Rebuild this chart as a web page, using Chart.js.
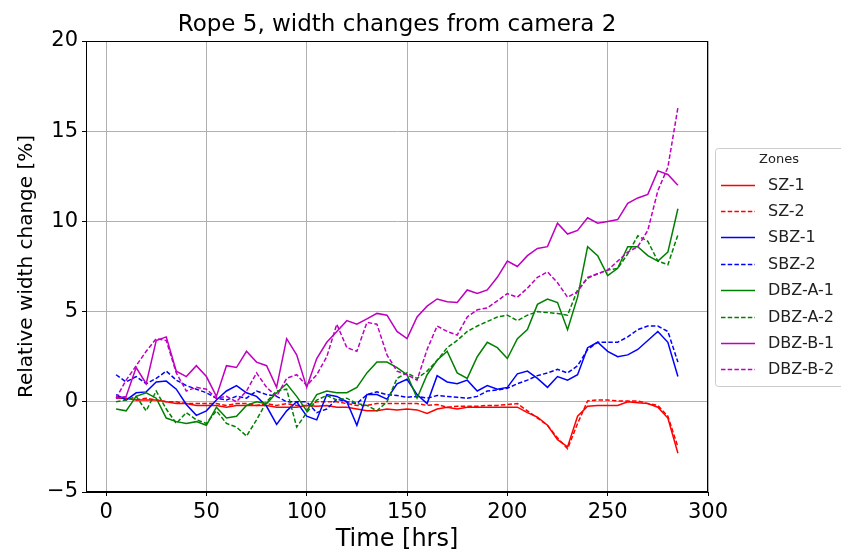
<!DOCTYPE html>
<html>
<head>
<meta charset="utf-8">
<script src="https://cdn.jsdelivr.net/npm/chart.js@4.4.1/dist/chart.umd.min.js"></script>
<style>
  html, body { margin: 0; padding: 0; background: #ffffff; }
  #wrap { width: 841px; height: 551px; position: relative; }
</style>
</head>
<body>
<div id="wrap"><canvas id="c" width="841" height="551"></canvas></div>
<script>
// ---- Data ----
const hours = [5,10,15,20,25,30,35,40,45,50,55,60,65,70,75,80,85,90,95,100,
  105,110,115,120,125,130,135,140,145,150,155,160,165,170,175,180,185,190,195,200,
  205,210,215,220,225,230,235,240,245,250,255,260,265,270,275,280,285];

const seriesNames = ["SZ-1","SZ-2","SBZ-1","SBZ-2","DBZ-A-1","DBZ-A-2","DBZ-B-1","DBZ-B-2"];

const sz1 = [0.2,0.2,0.1,0.1,0.1,0.0,-0.1,-0.1,-0.2,-0.2,-0.2,-0.3,-0.2,-0.2,-0.2,-0.2,-0.3,-0.3,-0.3,-0.2,
  -0.25,-0.2,-0.3,-0.3,-0.4,-0.5,-0.5,-0.4,-0.45,-0.4,-0.45,-0.65,-0.4,-0.3,-0.4,-0.3,-0.3,-0.3,-0.3,-0.3,
  -0.3,-0.6,-0.85,-1.3,-2.1,-2.5,-0.8,-0.25,-0.2,-0.2,-0.2,0.0,-0.05,-0.1,-0.3,-0.9,-2.85];
const sz2 = [0.3,0.2,0.1,0.2,0.1,0.0,0.0,-0.1,-0.1,-0.1,-0.1,-0.2,-0.1,-0.1,-0.2,-0.1,-0.2,-0.1,-0.2,-0.2,
  0.0,0.0,0.0,-0.1,-0.2,-0.2,-0.1,-0.1,-0.1,-0.1,-0.1,-0.2,-0.15,-0.3,-0.25,-0.25,-0.25,-0.2,-0.2,-0.15,
  -0.1,-0.5,-0.9,-1.3,-2.0,-2.6,-1.2,0.05,0.1,0.1,0.05,0.05,0.05,-0.1,-0.2,-0.8,-2.5];
const sbz1 = [0.4,0.1,0.5,0.55,1.1,1.15,0.7,-0.15,-0.75,-0.5,0.1,0.6,0.9,0.5,0.3,-0.25,-1.25,-0.5,0.0,-0.8,
  -1.0,0.4,0.3,0.0,-1.3,0.4,0.4,0.15,1.0,1.25,0.4,-0.1,1.45,1.1,1.0,1.2,0.6,0.9,0.7,0.8,
  1.55,1.7,1.3,0.8,1.4,1.2,1.5,3.0,3.3,2.8,2.5,2.6,2.9,3.4,3.9,3.3,1.4];
const sbz2 = [1.5,1.1,1.4,1.0,1.3,1.7,1.2,0.9,0.7,0.5,0.2,0.1,0.3,0.2,0.6,0.4,0.3,0.0,0.0,0.0,
  -0.6,-0.4,0.15,0.0,-0.1,0.4,0.55,0.4,0.35,0.25,0.3,0.2,0.35,0.3,0.25,0.2,0.3,0.6,0.65,0.75,
  1.0,1.2,1.45,1.6,1.8,1.6,2.0,2.9,3.3,3.3,3.3,3.6,4.0,4.2,4.2,3.9,2.2];
const dbzA1 = [-0.4,-0.5,0.3,0.5,0.2,-0.9,-1.1,-1.2,-1.1,-1.3,-0.3,-0.9,-0.8,-0.2,0.0,-0.1,0.5,1.0,0.3,-0.5,
  0.4,0.6,0.5,0.5,0.8,1.6,2.2,2.2,1.9,1.5,0.2,1.5,2.3,2.8,1.6,1.3,2.5,3.3,3.0,2.4,
  3.5,4.0,5.4,5.7,5.5,4.0,5.8,8.6,8.1,7.0,7.4,8.6,8.6,8.1,7.8,8.3,10.7];
const dbzA2 = [0.0,0.1,0.3,-0.5,0.6,-0.4,-1.2,-0.6,-1.0,-1.2,-0.5,-1.2,-1.4,-1.9,-1.0,0.0,0.6,0.7,-1.4,-0.6,
  0.1,0.35,0.1,0.2,-0.1,-0.2,-0.5,0.0,1.3,1.6,1.3,1.7,2.3,3.0,3.4,3.9,4.2,4.45,4.7,4.8,
  4.5,4.8,5.0,4.95,4.9,4.8,6.2,6.85,7.1,7.3,7.4,8.2,9.2,8.9,7.8,7.6,9.25];
const dbzB1 = [0.2,0.3,1.9,1.0,3.4,3.6,1.7,1.4,2.0,1.4,0.3,2.0,1.9,2.8,2.2,2.0,0.8,3.5,2.6,0.8,
  2.4,3.3,3.9,4.5,4.3,4.6,4.9,4.8,3.9,3.5,4.7,5.3,5.7,5.55,5.5,6.2,6.0,6.2,6.9,7.8,
  7.5,8.1,8.5,8.6,9.9,9.3,9.5,10.2,9.9,10.0,10.1,11.0,11.3,11.5,12.8,12.6,12.0];
const dbzB2 = [0.2,1.2,2.0,2.8,3.5,3.4,1.6,0.6,0.8,0.7,0.2,0.3,0.0,0.6,1.6,0.8,0.3,1.3,1.5,0.9,
  1.5,2.5,4.3,3.0,2.8,4.4,4.3,2.6,1.7,1.5,1.2,2.9,4.2,3.9,3.7,4.7,5.1,5.2,5.6,6.0,
  5.8,6.3,6.9,7.2,6.6,5.8,6.1,6.9,7.1,7.3,7.8,8.3,8.6,9.5,11.7,13.0,16.3];

const xTicks = [0,50,100,150,200,250,300];
const yTicks = [-5,0,5,10,15,20];

const titleText = "Rope 5, width changes from camera 2";
const xTitle = "Time [hrs]";
const yTitle = "Relative width change [%]";
const legendTitle = "Zones";

// ---- Styles ----
const seriesValues = [sz1, sz2, sbz1, sbz2, dbzA1, dbzA2, dbzB1, dbzB2];
const seriesColors = ["#ff0000","#ff0000","#0000ff","#0000ff","#008000","#008000","#bf00bf","#bf00bf"];
const seriesDashed = [false,true,false,true,false,true,false,true];
const DASH = [4.5, 2.2];
const LW = 1.5;
const FONT = "'DejaVu Sans', 'Liberation Sans', sans-serif";

const datasets = seriesNames.map((name, i) => ({
  label: name,
  data: hours.map((h, j) => ({x: h, y: seriesValues[i][j]})),
  borderColor: seriesColors[i],
  backgroundColor: seriesColors[i],
  borderWidth: LW,
  borderDash: seriesDashed[i] ? DASH : [],
  pointRadius: 0,
  tension: 0,
  fill: false,
  order: seriesNames.length - 1 - i
}));

const frame = {
  id: 'frame',
  afterDatasetsDraw(chart) {
    const a = chart.chartArea, ctx = chart.ctx;
    ctx.save();
    ctx.strokeStyle = '#000';
    ctx.lineWidth = 1;
    ctx.strokeRect(Math.round(a.left) + 0.5, Math.round(a.top) + 0.5,
                   Math.round(a.right - a.left) - 1, Math.round(a.bottom - a.top) - 1);
    ctx.restore();
  },
  afterDraw(chart) {
    const a = chart.chartArea, ctx = chart.ctx;
    ctx.save();
    // title
    ctx.fillStyle = '#000';
    ctx.font = "23px " + FONT;
    ctx.textAlign = 'center';
    ctx.textBaseline = 'alphabetic';
    ctx.fillText(titleText, (a.left + a.right) / 2, 31);
    // legend
    const lx = 715, ly = 148, lw = 140, lh = 238;
    ctx.fillStyle = 'rgba(255,255,255,0.8)';
    ctx.strokeStyle = '#cccccc';
    ctx.lineWidth = 1;
    ctx.beginPath();
    ctx.roundRect(lx + 0.5, ly + 0.5, lw, lh, 3);
    ctx.fill();
    ctx.stroke();
    ctx.fillStyle = '#222';
    ctx.font = "13px " + FONT;
    ctx.textAlign = 'center';
    ctx.textBaseline = 'middle';
    ctx.fillText(legendTitle, 779, 160);
    ctx.font = "16px " + FONT;
    ctx.textAlign = 'left';
    chart.data.datasets.forEach((ds, i) => {
      const y = 184.5 + i * 26.4;
      ctx.save();
      ctx.strokeStyle = ds.borderColor;
      ctx.lineWidth = 1.3;
      ctx.setLineDash(ds.borderDash || []);
      ctx.beginPath();
      ctx.moveTo(721, Math.round(y) + 0.5);
      ctx.lineTo(755, Math.round(y) + 0.5);
      ctx.stroke();
      ctx.restore();
      ctx.fillStyle = '#222';
      ctx.fillText(ds.label, 768, y + 1);
    });
    ctx.restore();
  }
};

new Chart(document.getElementById('c'), {
  type: 'line',
  data: { datasets },
  options: {
    responsive: false,
    animation: false,
    devicePixelRatio: 1,
    layout: { padding: { left: 0, top: 41, right: 133, bottom: 0 } },
    plugins: { legend: { display: false }, tooltip: { enabled: false }, title: { display: false } },
    scales: {
      x: {
        type: 'linear',
        min: -10, max: 300,
        afterBuildTicks(scale) { scale.ticks = xTicks.map(v => ({value: v})); },
        afterFit(scale) { scale.height = 59; },
        grid: { color: '#b0b0b0', lineWidth: 1, tickColor: '#000', tickLength: 4, drawTicks: true },
        border: { display: true, color: '#000', width: 1 },
        ticks: { color: '#000', font: { family: FONT, size: 21 }, padding: 4, maxRotation: 0, autoSkip: false,
          callback: v => String(v) },
        title: { display: true, text: xTitle, color: '#000', font: { family: FONT, size: 24, lineHeight: 1.0 }, padding: { top: 0, bottom: -1 } }
      },
      y: {
        type: 'linear',
        min: -5, max: 20,
        afterBuildTicks(scale) { scale.ticks = yTicks.map(v => ({value: v})); },
        afterFit(scale) { scale.width = 86; },
        grid: { color: '#b0b0b0', lineWidth: 1, tickColor: '#000', tickLength: 4, drawTicks: true },
        border: { display: true, color: '#000', width: 1 },
        ticks: { color: '#000', font: { family: FONT, size: 21 }, padding: 4, autoSkip: false,
          callback: v => (v < 0 ? '\u2212' + Math.abs(v) : String(v)) },
        title: { display: true, text: yTitle, color: '#000', font: { family: FONT, size: 20, lineHeight: 1.2 }, padding: { top: 15, bottom: 0 } }
      }
    }
  },
  plugins: [frame]
});
</script>
</body>
</html>
